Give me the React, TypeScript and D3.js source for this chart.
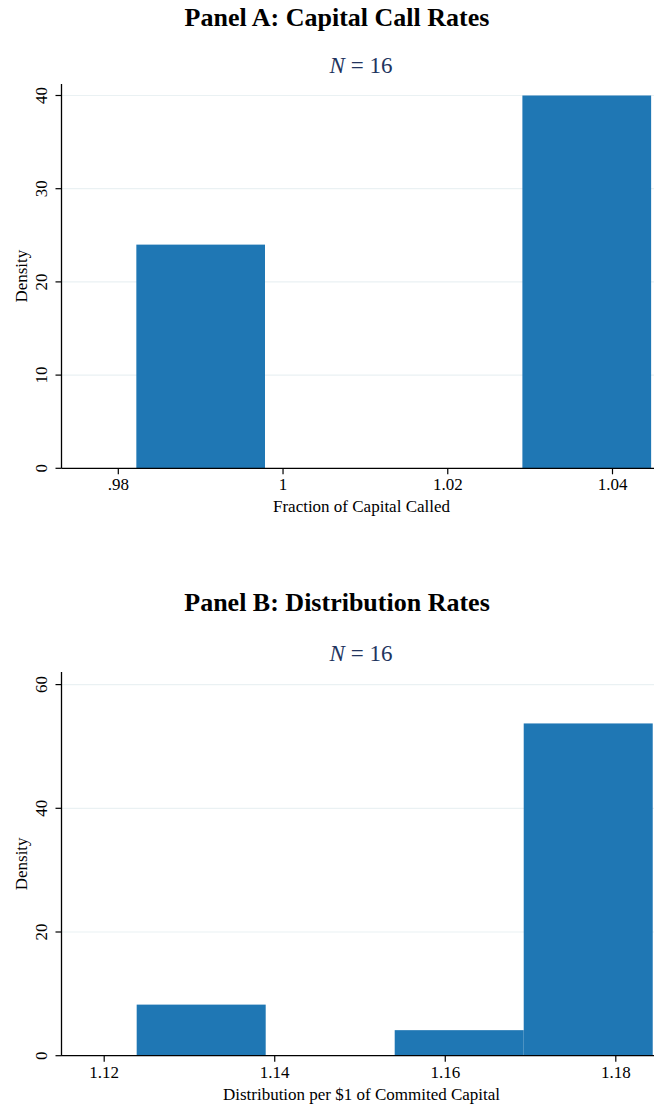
import React, { useEffect, useRef } from "react";
import * as d3 from "d3";

// Panel A: fraction of committed capital called (histogram, density scale)
const callBinEdges = [0.98219, 0.99781, 1.01344, 1.02906, 1.04469];
const callDensity = [24, 0, 0, 40];
const callXTicks = [0.98, 1.0, 1.02, 1.04];
const callXTickLabels = [".98", "1", "1.02", "1.04"];
const callYTicks = [0, 10, 20, 30, 40];

// Panel B: distributions per $1 of committed capital
const distBinEdges = [1.12381, 1.13894, 1.15407, 1.1692, 1.18433];
const distDensity = [8.26, 0, 4.13, 53.72];
const distXTicks = [1.12, 1.14, 1.16, 1.18];
const distXTickLabels = ["1.12", "1.14", "1.16", "1.18"];
const distYTicks = [0, 20, 40, 60];

const panelTitles = ["Panel A: Capital Call Rates", "Panel B: Distribution Rates"];
const xTitles = ["Fraction of Capital Called", "Distribution per $1 of Commited Capital"];
const yTitle = "Density";
const sampleSize = [16, 16];

const W = 654;
const H = 1105;
const FONT = "'Liberation Serif', 'Times New Roman', Times, serif";
const BAR = "#1f77b4";
const NAVY = "#22345e";

interface PanelSpec {
  title: string;
  n: number;
  xTitle: string;
  edges: number[];
  density: number[];
  xTicks: number[];
  xTickLabels: string[];
  yTicks: number[];
  xDomain: [number, number];
  xRange: [number, number];
  yMax: number;
  titleY: number;
  nY: number;
  plotTop: number;
  yBottom: number;
  yTopTick: number;
}

const panels: PanelSpec[] = [
  {
    title: panelTitles[0],
    n: sampleSize[0],
    xTitle: xTitles[0],
    edges: callBinEdges,
    density: callDensity,
    xTicks: callXTicks,
    xTickLabels: callXTickLabels,
    yTicks: callYTicks,
    xDomain: [0.98, 1.04],
    xRange: [118.3, 612.5],
    yMax: 40,
    titleY: 26,
    nY: 73,
    plotTop: 84,
    yBottom: 468.3,
    yTopTick: 95.5,
  },
  {
    title: panelTitles[1],
    n: sampleSize[1],
    xTitle: xTitles[1],
    edges: distBinEdges,
    density: distDensity,
    xTicks: distXTicks,
    xTickLabels: distXTickLabels,
    yTicks: distYTicks,
    xDomain: [1.12, 1.18],
    xRange: [104.2, 615.8],
    yMax: 60,
    titleY: 611,
    nY: 661,
    plotTop: 672,
    yBottom: 1055.7,
    yTopTick: 684.6,
  },
];

const AXIS_X = 61.5;

function drawPanel(svg: d3.Selection<SVGSVGElement, unknown, null, undefined>, p: PanelSpec) {
  const g = svg.append("g");
  const x = d3.scaleLinear().domain(p.xDomain).range(p.xRange);
  const y = d3.scaleLinear().domain([0, p.yMax]).range([p.yBottom, p.yTopTick]);

  // panel title
  g.append("text")
    .attr("x", W / 2 + 10)
    .attr("y", p.titleY)
    .attr("text-anchor", "middle")
    .attr("font-family", FONT)
    .attr("font-weight", "bold")
    .attr("font-size", 26)
    .attr("fill", "#000")
    .text(p.title);

  // subtitle with sample size
  const sub = g
    .append("text")
    .attr("x", 361)
    .attr("y", p.nY)
    .attr("text-anchor", "middle")
    .attr("font-family", FONT)
    .attr("font-size", 23)
    .attr("fill", NAVY);
  sub.append("tspan").attr("font-style", "italic").text("N");
  sub.append("tspan").text(` = ${p.n}`);

  // horizontal gridlines
  g.selectAll("line.grid")
    .data(p.yTicks.filter((t) => t > 0))
    .enter()
    .append("line")
    .attr("x1", AXIS_X)
    .attr("x2", W)
    .attr("y1", (d) => y(d))
    .attr("y2", (d) => y(d))
    .attr("stroke", "#eaf1f3")
    .attr("stroke-width", 1.2);

  // histogram bars
  const bins = p.density.map((d, i) => ({ x0: p.edges[i], x1: p.edges[i + 1], d }));
  g.selectAll("rect.bar")
    .data(bins.filter((b) => b.d > 0))
    .enter()
    .append("rect")
    .attr("x", (b) => x(b.x0))
    .attr("width", (b) => x(b.x1) - x(b.x0))
    .attr("y", (b) => y(b.d))
    .attr("height", (b) => y(0) - y(b.d))
    .attr("fill", BAR);

  // axes lines
  g.append("line")
    .attr("x1", AXIS_X)
    .attr("x2", AXIS_X)
    .attr("y1", p.plotTop)
    .attr("y2", p.yBottom)
    .attr("stroke", "#000")
    .attr("stroke-width", 1.3);
  g.append("line")
    .attr("x1", AXIS_X)
    .attr("x2", W)
    .attr("y1", p.yBottom)
    .attr("y2", p.yBottom)
    .attr("stroke", "#000")
    .attr("stroke-width", 1.3);

  // y ticks and rotated labels
  p.yTicks.forEach((t) => {
    g.append("line")
      .attr("x1", AXIS_X - 6)
      .attr("x2", AXIS_X)
      .attr("y1", y(t))
      .attr("y2", y(t))
      .attr("stroke", "#000")
      .attr("stroke-width", 1.2);
    g.append("text")
      .attr("transform", `translate(46.5,${y(t)}) rotate(-90)`)
      .attr("text-anchor", "middle")
      .attr("font-family", FONT)
      .attr("font-size", 17)
      .attr("fill", "#000")
      .text(String(t));
  });

  // y axis title
  g.append("text")
    .attr("transform", `translate(26.5,${(p.plotTop + p.yBottom) / 2}) rotate(-90)`)
    .attr("text-anchor", "middle")
    .attr("font-family", FONT)
    .attr("font-size", 17)
    .attr("fill", "#000")
    .text(yTitle);

  // x ticks and labels
  p.xTicks.forEach((t, i) => {
    g.append("line")
      .attr("x1", x(t))
      .attr("x2", x(t))
      .attr("y1", p.yBottom)
      .attr("y2", p.yBottom + 6)
      .attr("stroke", "#000")
      .attr("stroke-width", 1.2);
    g.append("text")
      .attr("x", x(t))
      .attr("y", p.yBottom + 22)
      .attr("text-anchor", "middle")
      .attr("font-family", FONT)
      .attr("font-size", 17)
      .attr("fill", "#000")
      .text(p.xTickLabels[i]);
  });

  // x axis title
  g.append("text")
    .attr("x", 361.5)
    .attr("y", p.yBottom + 44)
    .attr("text-anchor", "middle")
    .attr("font-family", FONT)
    .attr("font-size", 17)
    .attr("fill", "#000")
    .text(p.xTitle);
}

export default function App() {
  const ref = useRef<SVGSVGElement | null>(null);

  useEffect(() => {
    if (!ref.current) return;
    const svg = d3.select(ref.current);
    svg.selectAll("*").remove();
    svg.append("rect").attr("width", W).attr("height", H).attr("fill", "#fff");
    panels.forEach((p) => drawPanel(svg, p));
  }, []);

  return (
    <svg
      ref={ref}
      width={W}
      height={H}
      viewBox={`0 0 ${W} ${H}`}
      style={{ position: "absolute", left: 0, top: 0, display: "block" }}
    />
  );
}
